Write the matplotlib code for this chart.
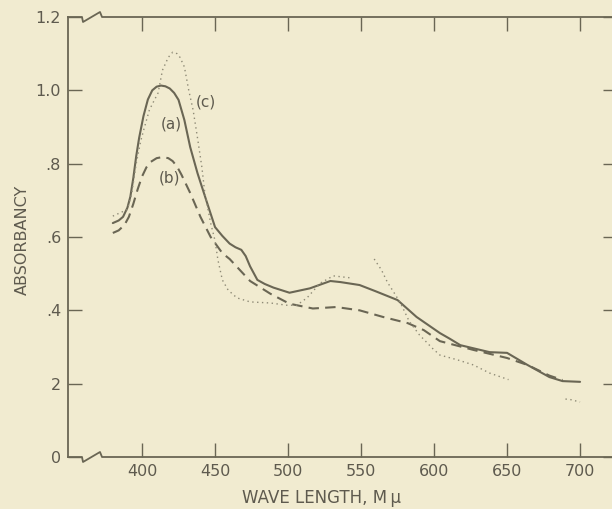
import matplotlib.pyplot as plt
import numpy as np
from matplotlib.lines import Line2D

# curve (a), solid
wl_a = [380, 384, 387, 390, 392, 394, 396, 398, 401, 404, 407, 410, 413, 416, 419, 422,
        425, 429, 433, 438, 444, 450, 455, 460, 464, 468, 471, 474, 479, 484, 490, 501,
        515, 529, 536, 549, 560, 575, 588, 604, 611, 618, 638, 650, 664, 679, 688, 700]
abs_a = [0.638, 0.645, 0.655, 0.68, 0.71, 0.76, 0.82, 0.87, 0.93, 0.975, 1.0, 1.01,
         1.013, 1.011, 1.005, 0.993, 0.974, 0.919, 0.845, 0.774, 0.70, 0.627, 0.603,
         0.582, 0.572, 0.565, 0.548, 0.52, 0.483, 0.472, 0.462, 0.448, 0.46, 0.48, 0.477,
         0.469, 0.452, 0.428, 0.382, 0.338, 0.322, 0.305, 0.286, 0.284, 0.251, 0.218,
         0.207, 0.205]

# curve (b), dashed
wl_b = [380, 384, 388, 391, 394, 397, 400, 403, 406, 410, 414, 418, 421, 424, 427, 430,
        433, 440, 447, 455, 460, 474, 488, 501, 517, 533, 549, 565, 582, 593, 604, 627,
        650, 664, 679, 688]
abs_b = [0.611, 0.618, 0.633, 0.655, 0.69, 0.73, 0.765, 0.79, 0.805, 0.815, 0.818, 0.815,
         0.807, 0.792, 0.77, 0.745, 0.72, 0.655, 0.60, 0.556, 0.54, 0.48, 0.445, 0.418,
         0.405, 0.409, 0.40, 0.382, 0.365, 0.346, 0.316, 0.292, 0.27, 0.251, 0.222, 0.21]

# curve (c), dotted (broken in places, NaN = gap)
wl_c = [380, 390, 393, 396, 399, 401, 405, 408, 411, 414, 418, 421, 424, 426, 429, 432,
        435, 438, 441, 443, 447, 450, 452, 455, 459, 465, 474, 488, 499, 506, 513, 522,
        531, 544,
        552, 559, 564, 568, 572, 577, 583, 590, 599, 604, 616, 627, 638, 651,
        670, 690, 693, 700]
abs_c = [0.657, 0.675, 0.72, 0.80, 0.86, 0.89, 0.946, 0.97, 0.993, 1.055, 1.09, 1.104,
         1.1, 1.09, 1.064, 1.0, 0.946, 0.87, 0.79, 0.72, 0.638, 0.59, 0.537, 0.483, 0.455,
         0.434, 0.423, 0.42, 0.414, 0.414, 0.434, 0.474, 0.494, 0.488,
         np.nan, 0.54, 0.51, 0.477, 0.452, 0.42, 0.37, 0.333, 0.296, 0.278, 0.265, 0.251,
         0.229, 0.211, np.nan, 0.158, 0.157, 0.15]

yticks = [0, 0.2, 0.4, 0.6, 0.8, 1.0, 1.2]
ytick_labels = ['0', '2', '.4', '.6', '.8', '1.0', '1.2']
xticks = [400, 450, 500, 550, 600, 650, 700]

bg = '#f1ebd0'
ink = '#6a6654'
txt = '#5e5a4e'

fig = plt.figure(figsize=(6.12, 5.09), dpi=100, facecolor=bg)
ax = fig.add_axes([68 / 612, 52 / 509, 549 / 612, 440 / 509], facecolor=bg)

ax.plot(wl_a, abs_a, color=ink, lw=1.5, solid_capstyle='round', solid_joinstyle='round')
ax.plot(wl_b, abs_b, color=ink, lw=1.5, linestyle=(0, (5, 3)))
ax.plot(wl_c, abs_c, color='#8e8a76', lw=1.0, linestyle=(0, (1, 2.5)))

ax.text(420, 0.908, '(a)', fontsize=11, color=txt, ha='center', va='center')
ax.text(419, 0.76, '(b)', fontsize=11, color=txt, ha='center', va='center')
ax.text(444, 0.968, '(c)', fontsize=11, color=txt, ha='center', va='center')

ax.set_xlim(349.3, 725.3)
ax.set_ylim(0, 1.2)
ax.set_xticks(xticks)
ax.set_yticks(yticks)
ax.set_yticklabels(ytick_labels)
ax.tick_params(direction='in', length=10, width=1, color=ink, labelcolor=txt,
               labelsize=11.5, pad=5, top=True, right=True)

for s in ['left', 'right']:
    ax.spines[s].set_color(ink)
    ax.spines[s].set_linewidth(1.3)
ax.spines['top'].set_visible(False)
ax.spines['bottom'].set_visible(False)

# top and bottom spines with the axis break mark
W, H = 549.0, 440.0
for y0 in [0.0, 1.0]:
    xs = [0, 14 / W, 15 / W, 32 / W, 34 / W, 1.0]
    ys = [y0, y0, y0 - 5 / H, y0 + 5 / H, y0, y0]
    ax.add_line(Line2D(xs, ys, transform=ax.transAxes, color=ink, lw=1.3,
                       clip_on=False))

fig.text(322 / 612, 1 - 498 / 509, 'WAVE LENGTH, M\u2009\u03bc', fontsize=12,
         color=txt, ha='center', va='center')
fig.text(22 / 612, 1 - 240 / 509, 'ABSORBANCY', fontsize=11.5, color=txt,
         ha='center', va='center', rotation=90)

fig.savefig('out.png', dpi=100, facecolor=bg)
